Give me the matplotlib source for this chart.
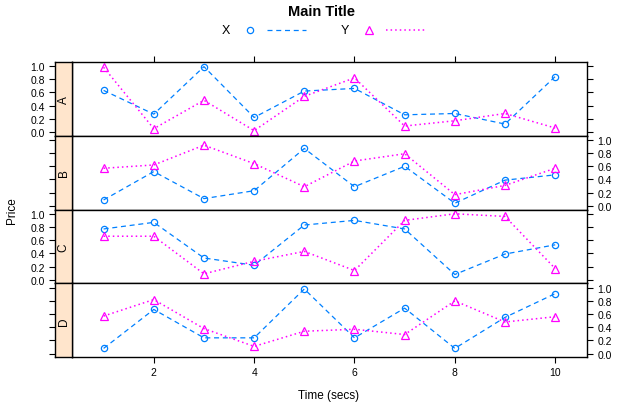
import matplotlib
matplotlib.use('Agg')
import matplotlib.pyplot as plt

plt.rcParams['font.family'] = ['Liberation Sans', 'DejaVu Sans']

# ---- data ----
time_secs = [1, 2, 3, 4, 5, 6, 7, 8, 9, 10]
panel_names = ['A', 'B', 'C', 'D']
x_A = [0.63, 0.27, 0.99, 0.22, 0.62, 0.66, 0.26, 0.28, 0.12, 0.84]
y_A = [0.98, 0.05, 0.48, 0.02, 0.54, 0.82, 0.09, 0.17, 0.28, 0.06]
x_B = [0.09, 0.52, 0.11, 0.23, 0.87, 0.29, 0.60, 0.04, 0.39, 0.47]
y_B = [0.57, 0.62, 0.92, 0.64, 0.29, 0.68, 0.79, 0.17, 0.31, 0.57]
x_C = [0.77, 0.87, 0.33, 0.22, 0.83, 0.90, 0.77, 0.08, 0.39, 0.53]
y_C = [0.66, 0.66, 0.09, 0.28, 0.43, 0.14, 0.90, 1.00, 0.96, 0.17]
x_D = [0.08, 0.67, 0.24, 0.24, 0.98, 0.24, 0.69, 0.08, 0.55, 0.91]
y_D = [0.57, 0.82, 0.38, 0.11, 0.34, 0.37, 0.29, 0.80, 0.48, 0.56]
x_series = [x_A, x_B, x_C, x_D]
y_series = [y_A, y_B, y_C, y_D]
xticks = [2, 4, 6, 8, 10]
yticks = [0.0, 0.2, 0.4, 0.6, 0.8, 1.0]
ytick_labels = ['0.0', '0.2', '0.4', '0.6', '0.8', '1.0']

BLUE = '#0080ff'
MAG = '#ff00ff'
STRIP = '#ffe5cc'

W, H = 634, 414
fig = plt.figure(figsize=(W / 100, H / 100), dpi=100)

strip_left, panel_left, panel_right = 55.3, 72.0, 587.3
top, bottom = 62.7, 358.3
ph = (bottom - top) / 4
YLIM = (-0.055, 1.065)

tick_kw = dict(direction='out', length=4.3, width=0.8, labelsize=7.5, pad=3, colors='black')

for i, name in enumerate(panel_names):
    ytop = top + i * ph
    rect_y = 1 - (ytop + ph) / H
    ax = fig.add_axes([panel_left / W, rect_y, (panel_right - panel_left) / W, ph / H])
    sax = fig.add_axes([strip_left / W, rect_y, (panel_left - strip_left) / W, ph / H])

    ax.plot(time_secs, x_series[i], color=BLUE, ls=(0, (4, 3)), lw=0.9,
            marker='o', ms=4.5, mfc='none', mec=BLUE, mew=0.9)
    ax.plot(time_secs, y_series[i], color=MAG, ls=(0, (1, 2)), lw=1.1,
            marker='^', ms=6, mfc='none', mec=MAG, mew=0.9)
    ax.set_xlim(0.37, 10.64)
    ax.set_ylim(*YLIM)
    for s in ax.spines.values():
        s.set_linewidth(1.0)

    ax.set_xticks(xticks)
    ax.set_yticks(yticks)
    ax.tick_params(axis='both', **tick_kw)
    ax.tick_params(axis='x', bottom=(i == 3), labelbottom=(i == 3),
                   top=(i == 0), labeltop=False)
    ax.tick_params(axis='y', left=False, labelleft=False,
                   right=True, labelright=(i % 2 == 1))
    if i == 3:
        ax.set_xticklabels([str(t) for t in xticks])
    ax.set_yticklabels(ytick_labels)

    # strip
    sax.set_facecolor(STRIP)
    sax.set_xlim(0, 1)
    sax.set_ylim(*YLIM)
    sax.set_xticks([])
    sax.set_yticks(yticks)
    sax.set_yticklabels(ytick_labels)
    sax.tick_params(axis='y', **tick_kw)
    sax.tick_params(axis='y', left=True, labelleft=(i % 2 == 0), right=False)
    for s in sax.spines.values():
        s.set_linewidth(1.0)
    sax.text(0.5, 0.5, name, rotation=90, ha='center', va='center',
             fontsize=8.5, transform=sax.transAxes)

# overlay for title / legend / labels in pixel space
lax = fig.add_axes([0, 0, 1, 1])
lax.set_xlim(0, W)
lax.set_ylim(H, 0)
lax.axis('off')
lax.patch.set_alpha(0)

lax.text(321, 12, 'Main Title', ha='center', va='center', fontsize=10.5, fontweight='bold')
lax.text(226, 31, 'X', ha='center', va='center', fontsize=9)
lax.plot([250], [31], marker='o', ms=4.5, mfc='none', mec=BLUE, mew=0.9)
lax.plot([267, 306], [31, 31], color=BLUE, ls=(0, (4, 3)), lw=0.9)
lax.text(345, 31, 'Y', ha='center', va='center', fontsize=9)
lax.plot([369], [30.5], marker='^', ms=6, mfc='none', mec=MAG, mew=0.9)
lax.plot([386, 425], [31, 31], color=MAG, ls=(0, (1, 2)), lw=1.1)

lax.text(12, (top + bottom) / 2, 'Price', rotation=90, ha='center', va='center', fontsize=8.5)
lax.text(329, 396, 'Time (secs)', ha='center', va='center', fontsize=8.5)

fig.savefig('out.png', dpi=100)
